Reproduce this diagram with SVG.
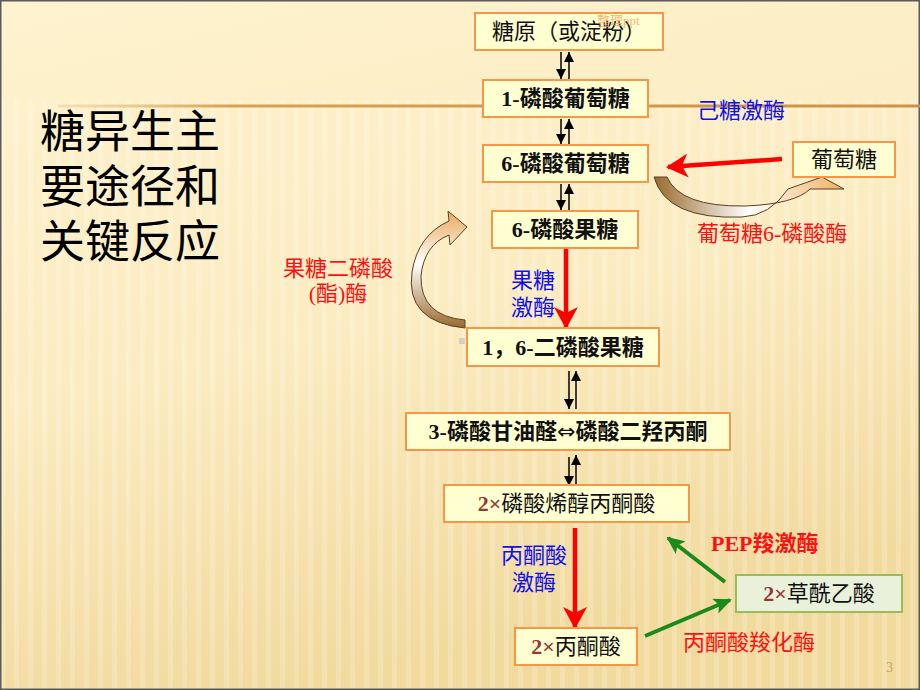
<svg xmlns="http://www.w3.org/2000/svg" width="920" height="690" viewBox="0 0 920 690">
  <defs>
    <linearGradient id="bg" x1="0" y1="0" x2="0.3" y2="1">
      <stop offset="0" stop-color="#FEF3CF"/>
      <stop offset="0.55" stop-color="#FBEBC0"/>
      <stop offset="1" stop-color="#F1DA9E"/>
    </linearGradient>
    <pattern id="stripes" width="14" height="690" patternUnits="userSpaceOnUse">
      <rect x="0" y="0" width="5" height="690" fill="#FFFFFF" opacity="0.18"/>
    </pattern>
    <linearGradient id="hline" x1="0" y1="0" x2="1" y2="0">
      <stop offset="0" stop-color="#E8C48A" stop-opacity="0.4"/>
      <stop offset="0.2" stop-color="#D9A050"/>
      <stop offset="1" stop-color="#C8934A"/>
    </linearGradient>
    <linearGradient id="curveL" x1="0" y1="0" x2="0" y2="1">
      <stop offset="0" stop-color="#E9A85A"/>
      <stop offset="0.45" stop-color="#FFFFFF"/>
      <stop offset="1" stop-color="#9A6A2E"/>
    </linearGradient>
    <linearGradient id="curveR" x1="0" y1="0" x2="1" y2="0">
      <stop offset="0" stop-color="#9A6A2E"/>
      <stop offset="0.5" stop-color="#FFFFFF"/>
      <stop offset="1" stop-color="#EFB060"/>
    </linearGradient>
    <marker id="ah" viewBox="0 0 10 10" refX="10" refY="5" markerWidth="10" markerHeight="10" markerUnits="userSpaceOnUse" orient="auto">
      <path d="M0,0 L10,5 L0,10 Z" fill="#000"/>
    </marker>
    <marker id="redHead" viewBox="0 0 22 24" refX="20" refY="12" markerWidth="22" markerHeight="24" markerUnits="userSpaceOnUse" orient="auto">
      <path d="M0,0 L22,12 L0,24 L6,12 Z" fill="#FF0000"/>
    </marker>
    <marker id="greenHead" viewBox="0 0 18 16" refX="16" refY="8" markerWidth="18" markerHeight="16" markerUnits="userSpaceOnUse" orient="auto">
      <path d="M0,0 L18,8 L0,16 L4,8 Z" fill="#1A8A1A"/>
    </marker>
  </defs>
  <style>
    .box { fill: #FFFFD2; stroke: #F79646; stroke-width: 2; }
    .gbox { fill: #EAF1DA; stroke: #9BBB59; stroke-width: 2; }
    .bt { font-family: "Liberation Serif", "Noto Sans CJK SC", serif; font-size: 22px; fill: #111; text-anchor: middle; }
    .b { font-weight: bold; }
    .dr { fill: #953735; font-weight: bold; }
    .lbl { font-family: "Liberation Serif", "Noto Sans CJK SC", serif; font-size: 22px; }
    .blue { fill: #1010F0; }
    .red { fill: #FF1010; }
    .thin { stroke: #000; stroke-width: 1.5; fill: none; marker-end: url(#ah); }
    .redA { stroke: #FF0000; stroke-width: 4.5; fill: none; marker-end: url(#redHead); }
    .greenA { stroke: #1A8A1A; stroke-width: 4; fill: none; marker-end: url(#greenHead); }
  </style>

  <!-- background -->
  <rect x="0" y="0" width="920" height="690" fill="url(#bg)"/>
  <rect x="0" y="100" width="920" height="590" fill="url(#stripes)"/>
  <rect x="0.75" y="0.75" width="918.5" height="688.5" fill="none" stroke="#5A5A5A" stroke-width="1.5"/>
  <rect x="58" y="104.5" width="862" height="3" fill="url(#hline)"/>

  <!-- title -->
  <g id="title" font-family="'Noto Sans CJK SC', sans-serif" font-size="45" fill="#000">
    <text x="40" y="148">糖异生主</text>
    <text x="40" y="203">要途径和</text>
    <text x="40" y="258">关键反应</text>
  </g>

  <!-- connectors -->
  <g id="connectors">
    <line class="thin" x1="561" y1="52" x2="561" y2="79"/>
    <line class="thin" x1="569" y1="79" x2="569" y2="52"/>
    <line class="thin" x1="561" y1="119" x2="561" y2="144"/>
    <line class="thin" x1="569" y1="144" x2="569" y2="119"/>
    <line class="thin" x1="561" y1="184" x2="561" y2="210"/>
    <line class="thin" x1="569" y1="210" x2="569" y2="184"/>
    <line class="thin" x1="569" y1="371" x2="569" y2="409"/>
    <line class="thin" x1="576" y1="409" x2="576" y2="371"/>
    <line class="thin" x1="569" y1="457" x2="569" y2="486"/>
    <line class="thin" x1="576" y1="486" x2="576" y2="455"/>

    <line class="redA" x1="566" y1="249" x2="566" y2="327"/>
    <line class="redA" x1="575" y1="528" x2="575" y2="627"/>
    <line class="redA" x1="782" y1="159" x2="668" y2="167"/>

    <line class="greenA" x1="725" y1="582" x2="668" y2="538"/>
    <line class="greenA" x1="645" y1="636" x2="730" y2="600"/>

    <!-- curved arrow: fructose bisphosphatase -->
    <path d="M465,328 Q405,322 412,272 Q418,235 449,221 L448,211 L467,227 L450,245 L449,235 Q424,245 421,276 Q420,316 465,320 Z" fill="url(#curveL)" stroke="#5A4020" stroke-width="1"/>
    <!-- curved arrow: glucose-6-phosphatase -->
    <path d="M654,177 L667,177 Q680,207 745,206 Q795,204 810,189 L844,189 L822,177 L788,189 Q770,216 742,217 Q666,220 654,177 Z" fill="url(#curveR)" stroke="#5A4020" stroke-width="1"/>
  </g>

  <!-- nodes -->
  <g id="n-glycogen">
    <rect class="box" x="475" y="13" width="188" height="37"/>
    <text class="bt" x="569" y="39">糖原（或淀粉）</text>
    <text x="597" y="25" font-family="'Liberation Serif', 'Noto Sans CJK SC', serif" font-size="13" fill="#F0A860" opacity="0.8">整理ppt</text>
  </g>
  <g id="n-g1p">
    <rect class="box" x="483" y="80" width="165" height="37"/>
    <text class="bt b" x="565.5" y="106">1-磷酸葡萄糖</text>
  </g>
  <g id="n-g6p">
    <rect class="box" x="483" y="145" width="165" height="37"/>
    <text class="bt b" x="565.5" y="171">6-磷酸葡萄糖</text>
  </g>
  <g id="n-f6p">
    <rect class="box" x="492" y="211" width="146" height="37"/>
    <text class="bt b" x="565" y="237">6-磷酸果糖</text>
  </g>
  <g id="n-f16bp">
    <rect class="box" x="467" y="328" width="192" height="38"/>
    <text class="bt b" x="563" y="355">1，6-二磷酸果糖</text>
    <rect x="459" y="338" width="6" height="6" fill="#D5D0C0"/>
  </g>
  <g id="n-triose">
    <rect class="box" x="406" y="413" width="324" height="37"/>
    <text class="bt b" x="568" y="439" font-size="21">3-磷酸甘油醛<tspan font-family="'DejaVu Sans', sans-serif" font-weight="normal" font-size="22">⇔</tspan>磷酸二羟丙酮</text>
  </g>
  <g id="n-pep">
    <rect class="box" x="444" y="485" width="245" height="37"/>
    <text class="bt" x="566.5" y="511"><tspan class="dr">2×</tspan>磷酸烯醇丙酮酸</text>
  </g>
  <g id="n-pyruvate">
    <rect class="box" x="515" y="628" width="122" height="37"/>
    <text class="bt" x="576" y="654"><tspan class="dr">2×</tspan>丙酮酸</text>
  </g>
  <g id="n-oaa">
    <rect class="gbox" x="736" y="575" width="166" height="37"/>
    <text class="bt" x="819" y="601"><tspan class="dr">2×</tspan>草酰乙酸</text>
  </g>
  <g id="n-glucose">
    <rect class="box" x="793" y="142" width="102" height="35"/>
    <text class="bt" x="844" y="167">葡萄糖</text>
  </g>

  <!-- enzyme labels -->
  <g id="labels">
    <text class="lbl blue" x="697" y="118">己糖激酶</text>
    <text class="lbl red" x="697" y="241">葡萄糖6-磷酸酶</text>
    <text class="lbl red" x="338" y="276" text-anchor="middle">果糖二磷酸</text>
    <text class="lbl red" x="338" y="301" text-anchor="middle">(酯)酶</text>
    <text class="lbl blue" x="533" y="288" text-anchor="middle">果糖</text>
    <text class="lbl blue" x="533" y="315" text-anchor="middle">激酶</text>
    <text class="lbl blue" x="534" y="563" text-anchor="middle">丙酮酸</text>
    <text class="lbl blue" x="534" y="590" text-anchor="middle">激酶</text>
    <text class="lbl red" x="711" y="551" font-weight="bold">PEP羧激酶</text>
    <text class="lbl red" x="683" y="650">丙酮酸羧化酶</text>
  </g>
  <text x="886" y="672" font-family="'Liberation Serif', serif" font-size="14" fill="#C9A064">3</text>
</svg>
